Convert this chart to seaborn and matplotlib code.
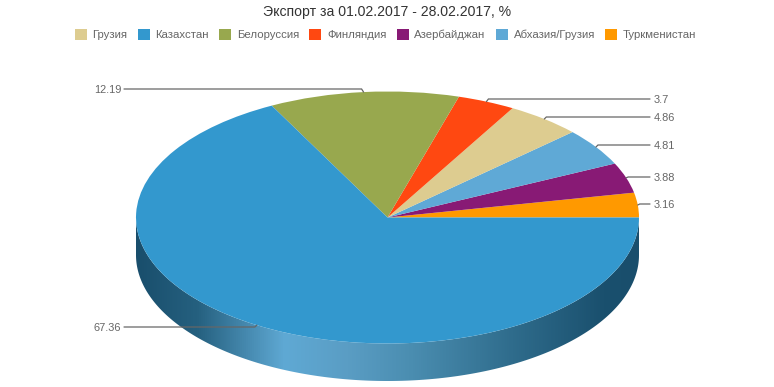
import numpy as np
import matplotlib
matplotlib.use("Agg")
import matplotlib.pyplot as plt
import seaborn as sns
from matplotlib.colors import LinearSegmentedColormap
from matplotlib.patches import Polygon

# legend order
countries = ["Грузия", "Казахстан", "Белоруссия", "Финляндия", "Азербайджан", "Абхазия/Грузия", "Туркменистан"]
shares = [4.86, 67.36, 12.19, 3.7, 3.88, 4.81, 3.16]
colors = ["#DDCC90", "#3398CE", "#98A84E", "#FF4811", "#881A75", "#5FA9D6", "#FF9900"]
# slices run counter clockwise from 3 o'clock in this order
pie_order = [6, 4, 5, 0, 3, 2, 1]
# y pixel of each value label
label_y = [117, 327, 89, 99, 177, 145, 204]

W, H = 774, 387
CX, CY, RX, RY = 387.5, 217.5, 251.5, 126
DEPTH = 37.5


def to_x(px):
    return (px - CX) / RX


def to_y(py):
    return (CY - py) / RY


def plot_pie():
    sns.set_theme(style="white")
    plt.rcParams["font.family"] = ["Liberation Sans", "DejaVu Sans"]
    palette = sns.color_palette(colors)

    fig = plt.figure(figsize=(W / 100, H / 100), dpi=100)
    ax = fig.add_axes([0, 0, 1, 1])

    # top of the pie
    wedges, _ = ax.pie(
        [shares[i] for i in pie_order],
        colors=[palette[i] for i in pie_order],
        startangle=0,
        counterclock=True,
        radius=1,
        wedgeprops={"linewidth": 0.3, "edgecolor": "none", "zorder": 3},
    )
    ax.set_aspect("auto")
    ax.set_xlim(to_x(0), to_x(W))
    ax.set_ylim(to_y(H), to_y(0))

    # side wall, gradient clipped to the front half of the rim
    t = np.linspace(np.pi, 2 * np.pi, 300)
    depth = DEPTH / RY
    rim = np.column_stack([np.cos(t), np.sin(t)])
    low = rim[::-1] - [0, depth]
    side = Polygon(np.vstack([[[-1, 0]], rim, low]), closed=True, transform=ax.transData,
                   facecolor="none", edgecolor="none")
    ax.add_patch(side)
    cmap = LinearSegmentedColormap.from_list("side", [
        (0.0, "#194E6C"), (0.12, "#25607F"), (0.295, "#5FA9D4"), (0.42, "#5A9DC4"),
        (0.55, "#4A8DB0"), (0.75, "#2F6C8C"), (0.93, "#1A506E"), (1.0, "#194E6C"),
    ])
    img = ax.imshow(np.linspace(0, 1, 512)[None, :], cmap=cmap, aspect="auto",
                    extent=[-1, 1, -1 - depth, 0.05], zorder=1)
    img.set_clip_path(side)
    ax.set_xlim(to_x(0), to_x(W))
    ax.set_ylim(to_y(H), to_y(0))

    # value labels with elbow leader lines
    total = sum(shares)
    start = 0.0
    for i in pie_order:
        mid = 2 * np.pi * (start + shares[i] / 2) / total
        start += shares[i]
        ex, ey = np.cos(mid), np.sin(mid)
        ly = to_y(label_y[i])
        right = ex > 0
        elbow = ex + (2 / RX if right else -2 / RX)
        end = to_x(650) if right else to_x(124)
        ax.plot([ex, elbow, end], [ey, ly, ly], color="#666666", lw=0.9, zorder=4,
                solid_joinstyle="miter")
        ax.text(to_x(653.5) if right else to_x(121.5), ly, str(shares[i]), fontsize=7.9,
                color="#666666", va="center_baseline", ha="left" if right else "right", zorder=5)

    ax.text(to_x(387), to_y(10.5), "Экспорт за 01.02.2017 - 28.02.2017, %", fontsize=10.1,
            color="#333333", ha="center", va="center_baseline")

    by_country = {idx: w for idx, w in zip(pie_order, wedges)}
    ax.legend(
        [by_country[i] for i in range(len(countries))], countries,
        ncol=len(countries), frameon=False, fontsize=8.2, labelcolor="#666666",
        loc="center", bbox_to_anchor=(385.5 / W, 1 - 34.5 / H),
        handlelength=1.054, handleheight=1.054, handletextpad=0.49, columnspacing=0.91,
        borderpad=0, borderaxespad=0,
    )

    fig.savefig("out.png", dpi=100, facecolor="white")


if __name__ == "__main__":
    plot_pie()
